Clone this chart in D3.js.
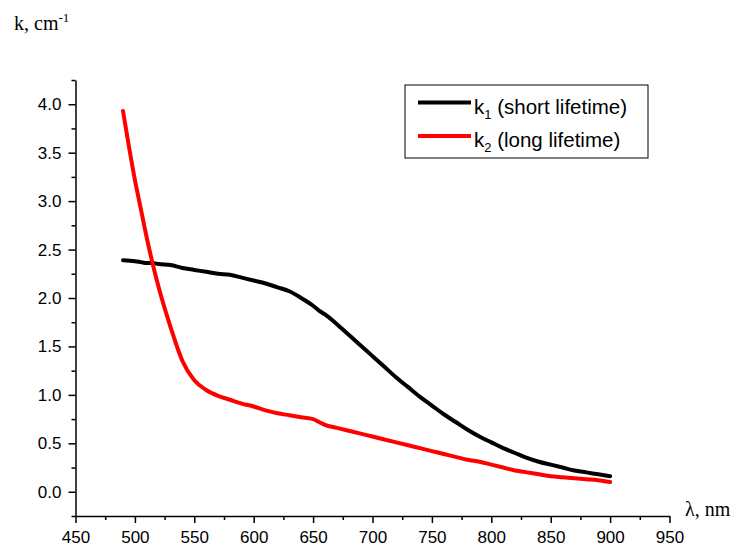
<!DOCTYPE html>
<html lang="en">
<head>
	<meta charset="utf-8">
	<script src="https://d3js.org/d3.v7.min.js"></script>
	<style>
		body { margin: 0; background: #fff; }
		.tick text { font: 17px "Liberation Sans", Arial, sans-serif; fill: #000; }
		.title { font: 20px "Liberation Serif", "Times New Roman", serif; fill: #000; }
		.legend { font: 20.5px "Liberation Sans", Arial, sans-serif; fill: #000; }
	</style>
	<title>k spectra</title>
</head>
<body>
	<script>
		// wavelength, nm
		var lambda = [490, 500, 505, 510, 515, 520, 530, 540, 550, 560, 570, 580, 590, 600, 610, 620, 630, 640, 650, 655, 660,
			670, 680, 690, 700, 710, 720, 730, 740, 750, 760, 770, 780, 790, 800, 810, 820, 830, 840, 850,
			860, 870, 880, 890, 900];
		// k1 (short lifetime)
		var k1 = [2.39, 2.38, 2.37, 2.36, 2.36, 2.35, 2.34, 2.31, 2.29, 2.27, 2.25, 2.24, 2.21, 2.18, 2.15, 2.11, 2.07, 2.00, 1.92, 1.87, 1.83,
			1.73, 1.62, 1.51, 1.40, 1.29, 1.18, 1.08, 0.98, 0.89, 0.80, 0.72, 0.64, 0.57, 0.51, 0.45, 0.40, 0.35, 0.31, 0.28,
			0.25, 0.22, 0.20, 0.18, 0.16];
		// k2 (long lifetime)
		var k2 = [3.93, 3.22, 2.92, 2.62, 2.35, 2.11, 1.70, 1.35, 1.15, 1.05, 0.99, 0.95, 0.91, 0.88, 0.84, 0.81, 0.79, 0.77, 0.75, 0.72, 0.69,
			0.66, 0.63, 0.60, 0.57, 0.54, 0.51, 0.48, 0.45, 0.42, 0.39, 0.36, 0.33, 0.31, 0.28, 0.25, 0.22, 0.20, 0.18, 0.16,
			0.15, 0.14, 0.13, 0.12, 0.10];

		var xTicks = [450, 500, 550, 600, 650, 700, 750, 800, 850, 900, 950];
		var yTicks = [0.0, 0.5, 1.0, 1.5, 2.0, 2.5, 3.0, 3.5, 4.0];

		var w = 734, h = 546;
		var x0 = 75.5, x1 = 669.5, yTop = 80, yBot = 516;

		var svg = d3.select("body").append("svg")
			.attr("width", w)
			.attr("height", h);

		var x = d3.scaleLinear().domain([450, 950]).range([x0, x1]);
		var y = d3.scaleLinear().domain([-0.25, 4.25]).range([yBot, yTop]);

		//minor ticks
		var xMinor = d3.range(475, 950, 50);
		var yMinor = d3.range(-0.25, 4.3, 0.5);

		svg.append("g")
			.attr("transform", "translate(0," + yBot + ")")
			.call(d3.axisBottom(x).tickValues(xMinor).tickSize(4).tickFormat(""))
			.call(function(g) { g.select(".domain").remove(); })
			.selectAll("line").attr("stroke-width", 1.5);

		svg.append("g")
			.attr("transform", "translate(" + x0 + ",0)")
			.call(d3.axisLeft(y).tickValues(yMinor).tickSize(4).tickFormat(""))
			.call(function(g) { g.select(".domain").remove(); })
			.selectAll("line").attr("stroke-width", 1.5);

		var xAxis = svg.append("g")
			.attr("transform", "translate(0," + yBot + ")")
			.call(d3.axisBottom(x).tickValues(xTicks).tickSize(7).tickSizeOuter(0).tickPadding(8));
		xAxis.select(".domain").attr("stroke-width", 1.5);
		xAxis.selectAll("line").attr("stroke-width", 1.5);

		var yAxis = svg.append("g")
			.attr("transform", "translate(" + x0 + ",0)")
			.call(d3.axisLeft(y).tickValues(yTicks).tickSize(7).tickSizeOuter(0).tickPadding(7).tickFormat(d3.format(".1f")));
		yAxis.select(".domain").attr("stroke-width", 1.5);
		yAxis.selectAll("line").attr("stroke-width", 1.5);

		//axis titles
		var yt = svg.append("text").attr("class", "title").attr("x", 14).attr("y", 30);
		yt.append("tspan").text("k, cm");
		yt.append("tspan").attr("dy", -8).attr("font-size", 13).text("-1");

		svg.append("text").attr("class", "title")
			.attr("x", 685).attr("y", 516)
			.text("λ, nm");

		//curves
		var line = d3.line()
			.x(function(d) { return x(d[0]); })
			.y(function(d) { return y(d[1]); })
			.curve(d3.curveMonotoneX);

		var series = [
			{ name: "1", label: " (short lifetime)", color: "#000", values: k1 },
			{ name: "2", label: " (long lifetime)", color: "#ff0000", values: k2 }
		];

		series.forEach(function(s) {
			svg.append("path")
				.datum(lambda.map(function(l, i) { return [l, s.values[i]]; }))
				.attr("fill", "none")
				.attr("stroke", s.color)
				.attr("stroke-width", 4)
				.attr("stroke-linejoin", "round")
				.attr("stroke-linecap", "round")
				.attr("d", line);
		});

		//legend
		var lg = svg.append("g").attr("transform", "translate(405,85)");
		lg.append("rect")
			.attr("width", 243).attr("height", 73)
			.attr("fill", "#fff").attr("stroke", "#000").attr("stroke-width", 1);

		series.forEach(function(s, i) {
			var ly = 17.5 + i * 33.5;
			lg.append("line")
				.attr("x1", 13).attr("x2", 66)
				.attr("y1", ly).attr("y2", ly)
				.attr("stroke", s.color).attr("stroke-width", 4);
			var t = lg.append("text").attr("class", "legend")
				.attr("x", 69).attr("y", ly + 11);
			t.append("tspan").text("k");
			t.append("tspan").attr("dy", 5).attr("font-size", 13).text(s.name);
			t.append("tspan").attr("dy", -5).text(s.label);
		});
	</script>
</body>
</html>
